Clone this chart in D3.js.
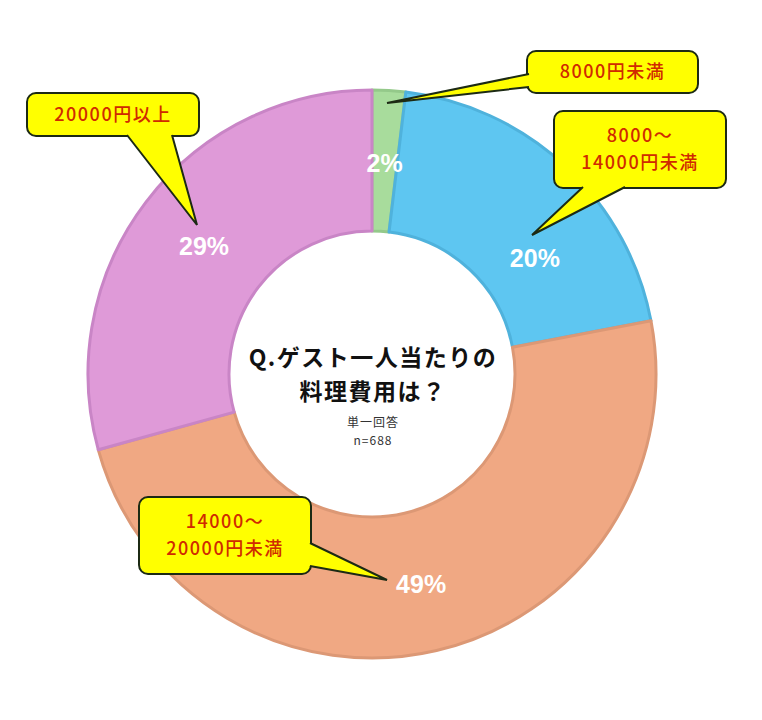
<!DOCTYPE html>
<html><head><meta charset="utf-8">
<script src="https://cdn.jsdelivr.net/npm/d3@7"></script>
<style>html,body{margin:0;padding:0;background:#fff;}</style>
</head><body>
<svg id="chart" width="762" height="720"></svg>
<script>
// ---- data ----
const categories = ["8000円未満", "8000～14000円未満", "14000～20000円未満", "20000円以上"];
const shares = [1.9, 20.1, 48.7, 29.3];   // percent of respondents (n=688)
const titleLines = ["Q.ゲスト一人当たりの", "料理費用は？"];
const subLines = ["単一回答", "n=688"];

// ---- styles / layout ----
const fills   = ["#a8dc9c", "#5ec6f1", "#f0a883", "#df9ad8"];
const strokes = ["#94c98a", "#4fb2dc", "#dc9875", "#c985c6"];
const cx = 372, cy = 374, R = 284, r = 143;
const labelNudge = [{da:0, r:211}, {da:11.5, r:200}, {da:0, r:216}, {da:0, r:211}];
const callouts = [
  {lines:["8000円未満"], x:527, y:51, w:171, h:42,
   tail:[[529,74],[529,87],[387,103]]},
  {lines:["8000～","14000円未満"], x:554, y:111, w:172, h:77,
   tail:[[625,187],[583,187],[532,235]]},
  {lines:["20000円以上"], x:27, y:93, w:172, h:43,
   tail:[[127,135],[172,135],[197,225]]},
  {lines:["14000～","20000円未満"], x:139, y:497, w:172, h:77,
   tail:[[310,543],[310,566],[387,580]]}
];

const svg = d3.select("#chart");
const g = svg.append("g").attr("transform", `translate(${cx},${cy})`);

const pie = d3.pie().sort(null).value(d => d)(shares);
const arc = d3.arc().innerRadius(r).outerRadius(R);

g.selectAll("path.slice").data(pie).join("path")
  .attr("class","slice")
  .attr("d", arc)
  .attr("fill", (d,i) => fills[i])
  .attr("stroke", (d,i) => strokes[i])
  .attr("stroke-width", 3)
  .attr("stroke-linejoin","round");

const fmt = v => d3.format(".0f")(v) + "%";
g.selectAll("text.pct").data(pie).join("text")
  .attr("class","pct")
  .attr("transform", (d,i) => {
    const a = (d.startAngle + d.endAngle)/2 + labelNudge[i].da*Math.PI/180;
    const rr = labelNudge[i].r;
    return `translate(${rr*Math.sin(a)},${-rr*Math.cos(a)})`;
  })
  .attr("text-anchor","middle")
  .attr("dy","0.36em")
  .attr("fill","#fff")
  .attr("font-family","'Liberation Sans', Arial, sans-serif")
  .attr("font-weight","bold")
  .attr("font-size",25)
  .text(d => fmt(d.data));

// centre text
const ct = svg.append("g").attr("transform", `translate(${cx+1},0)`);
ct.selectAll("text.title").data(titleLines).join("text")
  .attr("class","title")
  .attr("x",0).attr("y",(d,i)=>366+i*34)
  .attr("text-anchor","middle")
  .attr("font-family","'Noto Sans CJK JP', sans-serif")
  .attr("font-weight","bold").attr("font-size",23).attr("letter-spacing",1.5).attr("fill","#111")
  .text(d=>d);
ct.selectAll("text.sub").data(subLines).join("text")
  .attr("class","sub")
  .attr("x",0).attr("y",(d,i)=>427+i*18)
  .attr("text-anchor","middle")
  .attr("font-family","'Noto Sans CJK JP', sans-serif")
  .attr("font-size",12).attr("letter-spacing",1).attr("fill","#333")
  .text(d=>d);

// callouts
const cg = svg.append("g");
callouts.forEach((c,i) => {
  const grp = cg.append("g");
  grp.append("rect").attr("x",c.x).attr("y",c.y).attr("width",c.w).attr("height",c.h)
    .attr("rx",9).attr("fill","#ffff00").attr("stroke","#1c2a14").attr("stroke-width",2);
  const [b1,b2,tip] = c.tail;
  const cxb = c.x + c.w/2, cyb = c.y + c.h/2;
  const inset = p => { const dx = cxb-p[0], dy = cyb-p[1], L = Math.hypot(dx,dy); return [p[0]+dx/L*3, p[1]+dy/L*3]; };
  grp.append("path").attr("d", d3.line()([inset(b1), b1, tip, b2, inset(b2)]) + "Z")
    .attr("fill","#ffff00").attr("stroke","none");
  grp.append("path").attr("d", d3.line()([b1, tip, b2]))
    .attr("fill","none").attr("stroke","#1c2a14").attr("stroke-width",2).attr("stroke-linejoin","miter");
  const lh = 27;
  const y0 = c.y + c.h/2 - (c.lines.length-1)*lh/2;
  grp.selectAll("text").data(c.lines).join("text")
    .attr("x", c.x + c.w/2).attr("y",(d,k)=>y0 + k*lh)
    .attr("dy","0.35em")
    .attr("text-anchor","middle")
    .attr("font-family","'Noto Sans CJK JP', sans-serif")
    .attr("font-weight",500).attr("font-size",18).attr("letter-spacing",1.5)
    .attr("fill","#d02a00")
    .text(d=>d);
});
</script>
</body></html>
